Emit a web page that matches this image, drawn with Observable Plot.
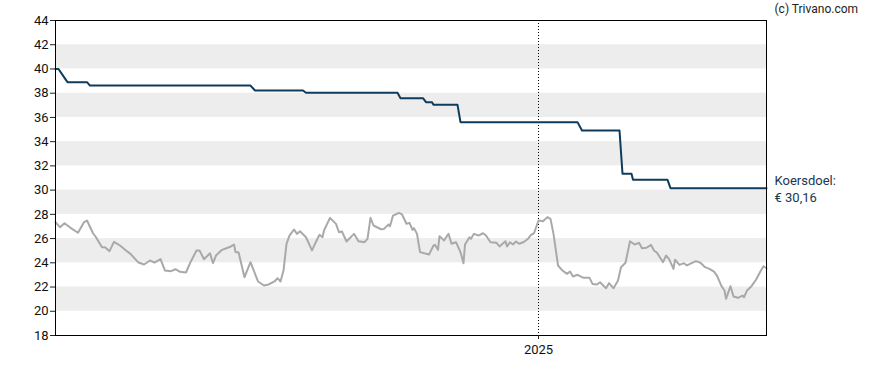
<!DOCTYPE html>
<html>
<head>
<meta charset="utf-8">
<script src="https://cdn.jsdelivr.net/npm/d3@7"></script>
<script src="https://cdn.jsdelivr.net/npm/@observablehq/plot@0.6"></script>
<style>
  html, body { margin: 0; padding: 0; background: #fff; }
  #chart svg { display: block; }
</style>
</head>
<body>
<div id="chart"></div>
<script>
// Day offsets are days after the series start date
const startDate = "2024-02-14";
const endDate = "2025-06-02";
const yearTick = ["2025-01-01"];
const yTicks = [18, 20, 22, 24, 26, 28, 30, 32, 34, 36, 38, 40, 42, 44];
const bands = [[20, 22], [24, 26], [28, 30], [32, 34], [36, 38], [40, 42]];

// Share price (grey line)
const priceDay = [0, 3, 6, 10, 15, 19, 21, 25, 27, 31, 33, 36, 39, 43, 47, 50, 55, 59, 63, 66, 70, 73, 77, 80, 83, 87, 90, 94, 96, 99, 103, 105, 107, 111, 113, 117, 119, 120, 122, 126, 130, 135, 139, 142, 146, 148, 150, 152, 154, 156, 159, 161, 163, 167, 171, 173, 176, 178, 179, 183, 187, 189, 191, 194, 199, 202, 206, 208, 210, 212, 217, 219, 222, 223, 225, 229, 231, 234, 236, 238, 239, 241, 243, 249, 252, 253, 255, 256, 259, 262, 264, 267, 270, 272, 273, 276, 277, 279, 282, 285, 287, 290, 294, 296, 300, 301, 303, 305, 307, 309, 312, 315, 317, 319, 322, 325, 328, 330, 332, 335, 338, 341, 343, 345, 348, 352, 356, 358, 361, 363, 367, 369, 372, 375, 377, 380, 383, 386, 389, 391, 394, 397, 399, 401, 405, 407, 409, 412, 413, 416, 419, 421, 424, 427, 430, 433, 436, 439, 441, 444, 446, 447, 450, 452, 455, 458, 459, 461, 464, 467, 470, 472, 474];
const priceValue = [27.35, 26.94, 27.27, 26.89, 26.48, 27.35, 27.49, 26.44, 26.11, 25.29, 25.29, 24.96, 25.73, 25.43, 25.02, 24.74, 24.05, 23.86, 24.19, 24.02, 24.30, 23.36, 23.31, 23.47, 23.26, 23.20, 24.05, 25.02, 25.02, 24.30, 24.79, 23.97, 24.60, 25.07, 25.16, 25.35, 25.51, 24.88, 24.88, 22.81, 24.05, 22.46, 22.13, 22.21, 22.46, 22.73, 22.46, 23.36, 25.57, 26.25, 26.75, 26.39, 26.61, 26.11, 25.02, 25.57, 26.31, 26.11, 26.67, 27.71, 27.21, 26.52, 26.58, 25.76, 26.39, 25.78, 25.70, 25.98, 27.71, 27.08, 26.77, 26.80, 27.16, 27.02, 27.90, 28.12, 27.99, 27.22, 27.30, 26.72, 26.86, 26.39, 24.88, 24.68, 25.43, 25.48, 25.07, 26.20, 25.84, 26.39, 25.57, 25.70, 24.88, 23.97, 25.51, 26.11, 25.98, 26.39, 26.25, 26.44, 26.25, 25.70, 25.65, 25.35, 25.78, 25.35, 25.70, 25.51, 25.76, 25.57, 25.70, 25.98, 26.31, 26.44, 27.49, 27.43, 27.77, 27.63, 26.39, 23.78, 23.36, 23.09, 23.28, 22.87, 23.01, 22.76, 22.76, 22.26, 22.21, 22.40, 21.90, 22.32, 21.90, 22.54, 23.64, 24.00, 25.78, 25.51, 25.65, 25.21, 25.24, 25.48, 25.02, 24.83, 24.05, 24.60, 24.33, 23.50, 24.25, 23.83, 23.97, 23.78, 23.97, 24.14, 24.00, 23.64, 23.50, 23.28, 22.95, 22.07, 21.71, 21.03, 22.07, 21.22, 21.11, 21.30, 21.16, 21.71, 22.07, 22.60, 23.31, 23.72, 23.55];

// Analyst target price (dark blue line)
const targetDay = [0, 2, 5, 8, 21, 23, 130, 133, 165, 167, 228, 230, 245, 247, 251, 252, 268, 270, 348, 351, 376, 378, 384, 385, 408, 410, 474];
const targetValue = [40.0, 40.0, 39.45, 38.91, 38.91, 38.63, 38.63, 38.22, 38.22, 38.03, 38.03, 37.59, 37.59, 37.26, 37.26, 37.04, 37.04, 35.61, 35.61, 34.92, 34.92, 31.35, 31.35, 30.85, 30.85, 30.16, 30.16];

const targetLabel = "Koersdoel:\n€ 30,16";
const lastTarget = 30.16;
const copyright = "(c) Trivano.com";

const t0 = new Date(startDate + "T00:00:00Z");
const toDate = d => d3.utcDay.offset(t0, d);
const price = priceDay.map((d, i) => ({date: toDate(d), value: priceValue[i]}));
const target = targetDay.map((d, i) => ({date: toDate(d), value: targetValue[i]}));
const tEnd = new Date(endDate + "T00:00:00Z");

const chart = Plot.plot({
  width: 888,
  height: 370,
  marginLeft: 55,
  marginRight: 122,
  marginTop: 20,
  marginBottom: 35,
  style: {fontFamily: "Roboto, sans-serif", fontSize: "13px", color: "#222", background: "#fff"},
  x: {type: "utc", domain: [t0, tEnd]},
  y: {domain: [18, 44]},
  marks: [
    Plot.rect(bands, {y1: d => d[0], y2: d => d[1], fill: "#ededed"}),
    Plot.ruleX(yearTick.map(s => new Date(s + "T00:00:00Z")), {stroke: "#000", strokeWidth: 1, strokeDasharray: "1,2"}),
    Plot.line(price, {x: "date", y: "value", stroke: "#a9a9a9", strokeWidth: 2}),
    Plot.line(target, {x: "date", y: "value", stroke: "#0f3b5c", strokeWidth: 2}),
    Plot.frame({stroke: "#000", strokeWidth: 1}),
    Plot.axisY({ticks: yTicks, tickSize: 5, tickPadding: 2, fontSize: 13, label: null, fill: "#111"}),
    Plot.axisX({ticks: yearTick.map(s => new Date(s + "T00:00:00Z")), tickFormat: d3.utcFormat("%Y"), tickSize: 4, tickPadding: 5, fontSize: 13, label: null, fill: "#111"}),
    Plot.text([lastTarget], {x: () => tEnd, y: d => d, text: () => targetLabel, dx: 8, textAnchor: "start", lineAnchor: "middle", lineHeight: 1.3, fill: "#1c3550", fontSize: 13}),
    Plot.text([44], {x: () => tEnd, y: d => d, text: () => copyright, dx: 8, dy: -11, textAnchor: "start", lineAnchor: "middle", fill: "#222", fontSize: 12})
  ]
});
document.getElementById("chart").appendChild(chart);
</script>
</body>
</html>
